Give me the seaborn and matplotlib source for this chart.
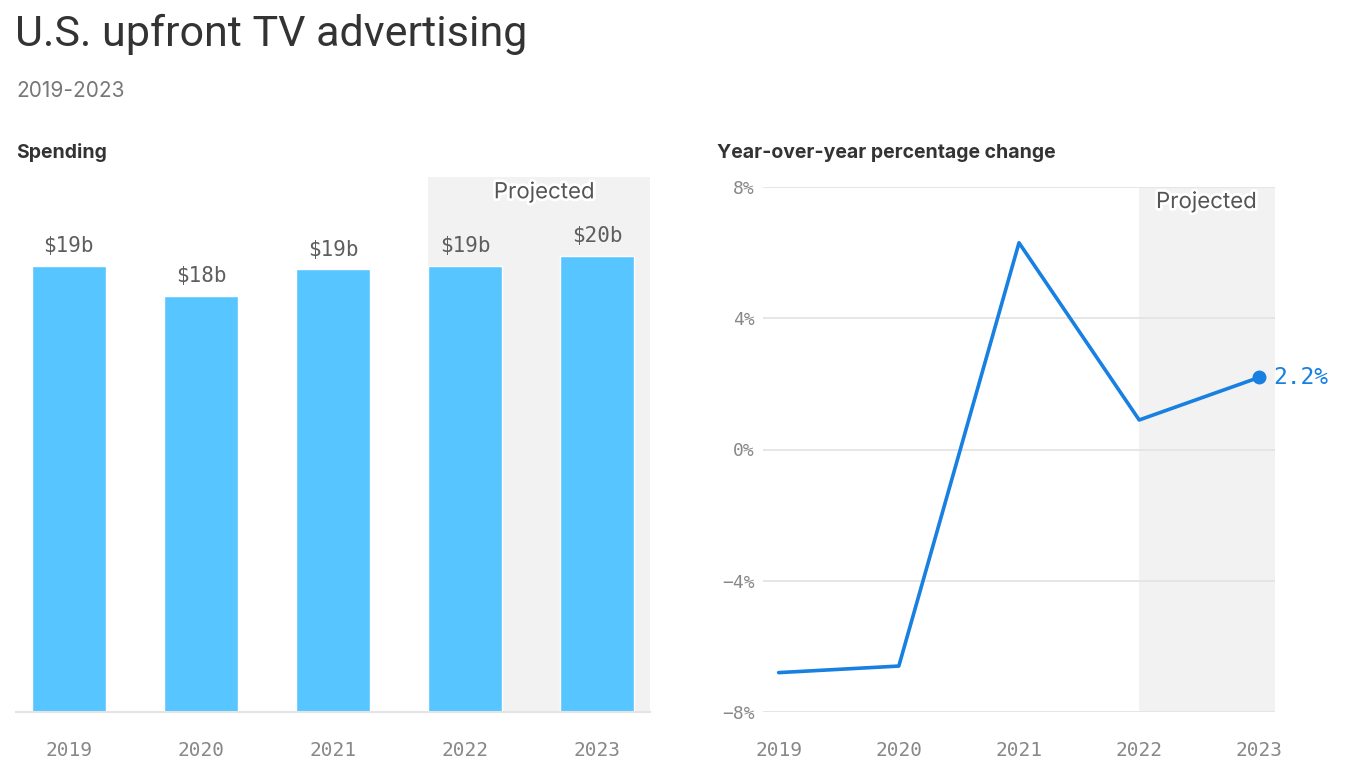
import matplotlib
matplotlib.use("Agg")
import matplotlib.pyplot as plt
import matplotlib.patheffects as pe
import seaborn as sns
import pandas as pd

years = ["2019", "2020", "2021", "2022", "2023"]
spending = [19.3, 18.0, 19.15, 19.3, 19.75]          # $ billions
yoy_change = [-6.8, -6.6, 6.3, 0.9, 2.2]              # percent
yoy_ticks = [-8, -4, 0, 4, 8]
projected_years = ["2022", "2023"]

sns.set_theme(style="white")
plt.rcParams["font.family"] = ["Inter", "DejaVu Sans"]

BAR = "#57C5FF"
LINE = "#1780E0"
SHADE = "#F2F2F2"
GRID = "#E4E4E4"
MONO = "DejaVu Sans Mono"

W, H = 1366, 768
fig = plt.figure(figsize=(W / 100, H / 100), dpi=100)
fig.patch.set_facecolor("white")

def box(x0, y0, x1, y1):
    return [x0 / W, 1 - y1 / H, (x1 - x0) / W, (y1 - y0) / H]

fig.text(15 / W, 1 - 46 / H, "U.S. upfront TV advertising", fontsize=31,
         color="#333333", va="baseline", ha="left",
         fontfamily=["Roboto", "DejaVu Sans"])
fig.text(16 / W, 1 - 97 / H, "2019-2023", fontsize=15, color="#777777",
         va="baseline", ha="left")
fig.text(16 / W, 1 - 158 / H, "Spending", fontsize=14, fontweight="bold",
         color="#333333", va="baseline", ha="left")
fig.text(717 / W, 1 - 158 / H, "Year-over-year percentage change", fontsize=14,
         fontweight="bold", color="#333333", va="baseline", ha="left")

# ---------- Left: bars ----------
ax1 = fig.add_axes(box(16, 177, 650, 712))
df1 = pd.DataFrame({"year": years, "spending": spending})
first_proj = years.index(projected_years[0])
ax1.axvspan(first_proj - 0.28, 4.4, color=SHADE, zorder=0, lw=0)
sns.barplot(data=df1, x="year", y="spending", color=BAR, width=0.56,
            saturation=1, ax=ax1, zorder=2)
ax1.set_xlim(-0.4, 4.4)
ax1.set_ylim(0, 23.15)
ax1.set_xlabel("")
ax1.set_ylabel("")
ax1.set_yticks([])
for s in ["top", "right", "left"]:
    ax1.spines[s].set_visible(False)
ax1.spines["bottom"].set_color(GRID)
ax1.spines["bottom"].set_linewidth(1.5)
ax1.tick_params(axis="x", length=15, width=1.2, color=GRID, pad=6,
                labelsize=14, labelcolor="#888888")
for lab in ax1.get_xticklabels():
    lab.set_fontfamily(MONO)
ax1.bar_label(ax1.containers[0], labels=[f"${round(v)}b" for v in spending],
              padding=7, fontsize=15, color="#5E5E5E", fontfamily=MONO)
ax1.text(3.6, 22.5, "Projected", ha="center", va="center", fontsize=16,
         color="#555555", zorder=5,
         path_effects=[pe.withStroke(linewidth=4, foreground="white")])

# ---------- Right: line ----------
ax2 = fig.add_axes(box(763, 187, 1275, 712))
df2 = pd.DataFrame({"x": range(len(years)), "change": yoy_change})
ax2.axvspan(years.index(projected_years[0]), 4.13, color=SHADE, zorder=0, lw=0)
sns.lineplot(data=df2, x="x", y="change", color=LINE, linewidth=2.6, ax=ax2,
             zorder=3)
ax2.plot([len(years) - 1], [yoy_change[-1]], "o", color=LINE, markersize=9,
         zorder=4)
ax2.annotate(f"{yoy_change[-1]:.1f}%", (len(years) - 1, yoy_change[-1]),
             xytext=(10, 0), textcoords="offset points", va="center",
             ha="left", fontsize=16.5, color=LINE, fontfamily=MONO,
             annotation_clip=False)
ax2.set_xlim(-0.13, 4.13)
ax2.set_ylim(-8, 8)
ax2.set_xticks(range(len(years)))
ax2.set_xticklabels(years)
ax2.set_yticks(yoy_ticks)
ax2.set_yticklabels([f"{t}%".replace("-", "\u2212") for t in yoy_ticks])
ax2.set_xlabel("")
ax2.set_ylabel("")
ax2.grid(axis="y", color=GRID, linewidth=1.3, zorder=1)
ax2.grid(axis="x", visible=False)
ax2.set_axisbelow(True)
for s in ["top", "right", "left", "bottom"]:
    ax2.spines[s].set_visible(False)
ax2.tick_params(axis="x", length=15, width=1.2, color=GRID, pad=6,
                labelsize=14, labelcolor="#888888")
ax2.tick_params(axis="y", length=0, pad=6, labelsize=13, labelcolor="#888888")
for lab in ax2.get_xticklabels() + ax2.get_yticklabels():
    lab.set_fontfamily(MONO)
ax2.text(3.56, 7.55, "Projected", ha="center", va="center", fontsize=16,
         color="#555555", zorder=5,
         path_effects=[pe.withStroke(linewidth=4, foreground="white")])

fig.savefig("out.png", dpi=100, facecolor="white")
